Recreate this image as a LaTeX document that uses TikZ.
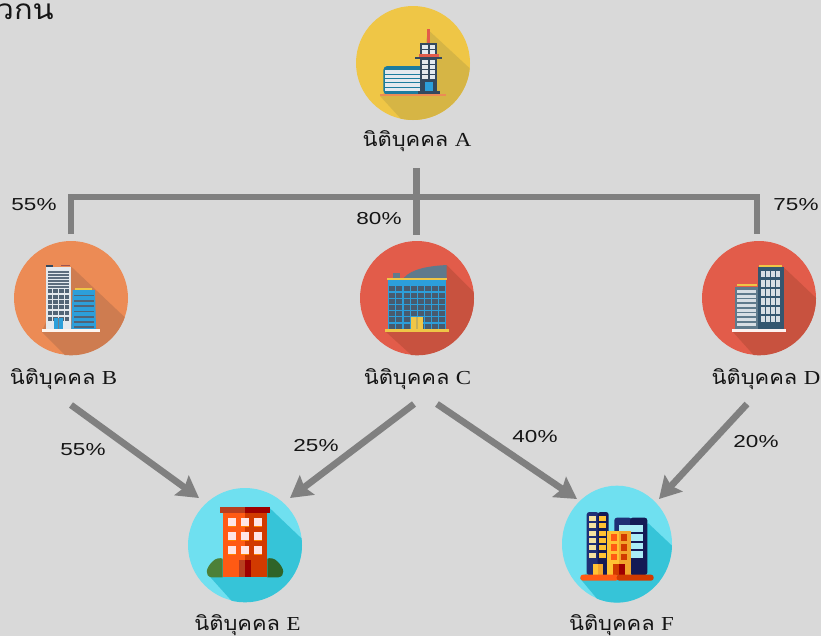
\documentclass[tikz,border=0pt]{standalone}
\usepackage{fontspec}
\usetikzlibrary{arrows.meta,shapes.geometric}
\newfontfamily\thaifont[Script=Thai,FakeStretch=1.1]{Loma}
\newfontfamily\latf[FakeStretch=1.15]{Liberation Serif}
\newfontfamily\pctf[FakeStretch=1.3]{Liberation Sans}
\definecolor{bgc}{HTML}{D9D9D9}
\definecolor{barc}{HTML}{808080}
\definecolor{inkc}{HTML}{151515}
\definecolor{yelc}{HTML}{EFC646}
\definecolor{yels}{HTML}{D6B545}
\definecolor{orac}{HTML}{EC8B55}
\definecolor{oras}{HTML}{CE7C50}
\definecolor{redc}{HTML}{E25C4A}
\definecolor{reds}{HTML}{C8523F}
\definecolor{cyac}{HTML}{6FE0F0}
\definecolor{cyas}{HTML}{36C4D8}
\definecolor{navy}{HTML}{34495E}
\definecolor{skyb}{HTML}{2C9FDA}
\definecolor{slat}{HTML}{5F7A8C}
\definecolor{teal}{HTML}{1C7C9E}
\definecolor{dnav}{HTML}{34566F}
\definecolor{fnavl}{HTML}{1F2F75}
\definecolor{fnavd}{HTML}{141A55}
\definecolor{hotl}{HTML}{FF5A14}
\definecolor{hotd}{HTML}{D13A00}
\definecolor{roofl}{HTML}{B83F1F}
\definecolor{roofd}{HTML}{9E0000}
\definecolor{bushl}{HTML}{4C8038}
\definecolor{bushd}{HTML}{2F6428}
\definecolor{ambl}{HTML}{FFC233}
\definecolor{ambd}{HTML}{F2A52C}
\definecolor{cream}{HTML}{F5E2A0}
\definecolor{palew}{HTML}{E4E9EE}
\newcommand{\bx}[5]{\fill[#1] (#2,#3) rectangle (#4,#5);}
\tikzset{
  disc/.style={circle,minimum size=85.5pt,inner sep=0pt},
  namelabel/.style={text=inkc,inner sep=0pt,font=\fontsize{14.9pt}{18pt}\selectfont},
  pct/.style={text=inkc,inner sep=0pt,font=\pctf\fontsize{13pt}{15pt}\selectfont},
  barline/.style={draw=barc,line width=5.2pt},
  arrowline/.style={draw=barc,line width=5pt,-{Stealth[length=16pt,width=18pt,inset=2.5pt]}},
  zoomed/.style={x=.25pt,y=-.25pt}
}
\newcommand{\ent}[1]{{\thaifont นิติบุคคล} {\latf #1}}
\begin{document}
\begin{tikzpicture}[x=.75pt,y=-.75pt]
\useasboundingbox (0,0) rectangle (821,636);
\fill[bgc] (0,0) rectangle (821,636);
\clip (0,0) rectangle (821,636);
% discs
\node[disc,fill=yelc] (a) at (413,63) {};
\node[disc,fill=orac] (b) at (71,298) {};
\node[disc,fill=redc] (c) at (417,298) {};
\node[disc,fill=redc] (d) at (759,298) {};
\node[disc,fill=cyac] (e) at (245,545) {};
\node[ellipse,minimum width=82.5pt,minimum height=87.5pt,inner sep=0pt,fill=cyac] (f) at (617,544) {};
% building A
\begin{scope}[shift={(340,0)},zoomed]
\begin{scope}\clip (219,189) circle[radius=42.75pt];
\fill[yels] (265,90) -- (400,215) -- (400,370) -- (195,370) -- (120,288) -- (241,200) -- cycle;
\end{scope}
\fill[rounded corners=3pt,fill=teal] (130,198) rectangle (250,284);
\foreach \y in {211,224,237,250,263}{\bx{palew}{136}{\y}{242}{\y+10}}
\bx{redc}{262}{88}{270}{135}
\bx{navy}{241}{130}{291}{165}
\foreach \x in {247,269}{\foreach \y in {135,150}{\bx{palew}{\x}{\y}{\x+16}{\y+12}}}
\bx{redc}{237}{162}{297}{170}
\bx{navy}{225}{170}{305}{178}
\bx{navy}{241}{178}{291}{274}
\foreach \x in {247,269}{\foreach \y in {181,196,211,226}{\bx{palew}{\x}{\y}{\x+16}{\y+12}}}
\bx{skyb}{255}{246}{279}{272}
\bx{navy}{233}{272}{301}{282}
\bx{orac}{120}{282}{318}{289}
\end{scope}
% building B
\begin{scope}[shift={(0,230)},zoomed]
\begin{scope}\clip (213,205) circle[radius=42.75pt];
\fill[oras] (214,110) -- (385,272) -- (385,385) -- (205,385) -- (125,305) -- cycle;
\end{scope}
\bx{navy}{138}{104}{158}{110}
\bx{redc!60!navy}{182}{104}{210}{108}
\bx{palew}{138}{112}{214}{298}
\foreach \y in {122,131,140,149,158,167}{\bx{navy!80}{144}{\y}{208}{\y+6}}
\foreach \x in {144,160,178,194}{\foreach \y in {178,194,210,226,242,262}{\bx{navy!85}{\x}{\y}{\x+13}{\y+12}}}
\bx{skyb}{162}{265}{190}{298}
\bx{navy!70}{175}{265}{177}{298}
\fill[skyb] (218,180) -- (285,180) -- (288,298) -- (214,298) -- cycle;
\foreach \y in {194,210,226,242,258,274,288}{\bx{navy!85}{222}{\y}{281}{\y+5}}
\bx{yelc}{226}{174}{275}{180}
\bx{white!90!orac}{125}{298}{300}{306}
\end{scope}
% building C
\begin{scope}[shift={(350,230)},zoomed]
\begin{scope}\clip (201,205) circle[radius=42.75pt];
\fill[reds] (290,105) -- (385,200) -- (385,385) -- (195,385) -- (107,305) -- cycle;
\end{scope}
\fill[slat] (160,145) .. controls (185,115) and (240,108) .. (290,105) -- (290,145) -- cycle;
\bx{slat}{130}{128}{150}{145}
\bx{skyb}{114}{150}{288}{298}
\bx{yelc}{112}{144}{290}{150}
\foreach \x in {118,139,163,183,204,225,247,267}{\foreach \y in {168,188,207,225,243,262,281}{\bx{navy!90}{\x}{\y}{\x+17}{\y+15}}}
\bx{yelc}{182}{260}{220}{298}
\bx{yelc!70!slat}{198}{262}{203}{298}
\bx{yelc}{106}{297}{297}{306}
\end{scope}
% building D
\begin{scope}[shift={(690,230)},zoomed]
\begin{scope}\clip (207,205) circle[radius=42.75pt];
\fill[reds] (281,112) -- (390,215) -- (390,385) -- (200,385) -- (128,305) -- cycle;
\end{scope}
\bx{slat}{135}{170}{203}{298}
\bx{yelc}{141}{161}{201}{169}
\foreach \y in {180,194,208,222,236,250,264,278}{\bx{palew!90!slat}{140}{\y}{198}{\y+9}}
\bx{dnav}{203}{112}{281}{298}
\bx{yelc}{207}{104}{276}{111}
\foreach \x in {213,228,243,258}{\foreach \y in {122,150,178,205,232,257}{\bx{palew!90!slat}{\x}{\y}{\x+11}{\y+20}}}
\bx{white!92!redc}{127}{298}{287}{306}
\end{scope}
% building E
\begin{scope}[shift={(175,480)},zoomed]
\begin{scope}\clip (210,196) circle[radius=42.75pt];
\fill[cyas] (285,85) -- (395,190) -- (395,385) -- (190,385) -- (100,285) -- cycle;
\end{scope}
\fill[bushl] (143,292) -- (110,292) .. controls (88,288) and (92,265) .. (112,245) .. controls (122,234) and (135,233) .. (143,236) -- cycle;
\fill[bushd] (277,292) -- (310,292) .. controls (332,288) and (328,265) .. (308,245) .. controls (298,234) and (285,233) .. (277,236) -- cycle;
\bx{hotl}{143}{100}{210}{292}
\bx{hotd}{210}{100}{277}{292}
\bx{roofl}{134}{82}{210}{100}
\bx{roofd}{210}{82}{286}{100}
\foreach \x in {158,198,238}{\foreach \y in {115,157,199}{\bx{white!90!red}{\x}{\y}{\x+24}{\y+22}\bx{orange}{\x}{\y+22}{\x+24}{\y+25}}}
\bx{roofl}{193}{241}{210}{292}
\bx{roofd}{210}{241}{227}{292}
\end{scope}
% building F
\begin{scope}[shift={(550,480)},zoomed]
\begin{scope}\clip (201,193) ellipse[x radius=41.25pt,y radius=43.75pt];
\fill[cyas] (295,130) -- (385,215) -- (385,385) -- (165,385) -- (90,295) -- cycle;
\end{scope}
\fill[rounded corners=2pt,fnavl] (110,96) rectangle (146,285);
\fill[rounded corners=2pt,fnavd] (143,96) rectangle (176,285);
\foreach \y in {108,130,152,174,196,218}{\bx{cream}{117}{\y}{137}{\y+15}\bx{ambl}{148}{\y}{169}{\y+15}}
\bx{ambl}{128}{252}{143}{285}
\bx{ambd}{143}{252}{158}{285}
\fill[rounded corners=2pt,fnavl] (193,113) rectangle (245,285);
\fill[rounded corners=2pt,fnavd] (240,113) rectangle (292,285);
\foreach \y in {135,162,188,214}{\bx{cyac!60!white}{207}{\y}{280}{\y+20}}
\bx{ambl}{172}{152}{208}{285}
\bx{ambd}{208}{152}{244}{285}
\foreach \y in {163,192,221}{\bx{hotl}{182}{\y}{200}{\y+20}\bx{hotd}{214}{\y}{232}{\y+20}}
\bx{hotd}{190}{252}{208}{285}
\bx{roofd}{208}{252}{226}{285}
\fill[rounded corners=2pt,hotl] (91,284) rectangle (205,302);
\fill[rounded corners=2pt,hotd] (200,284) rectangle (311,302);
\end{scope}
% name labels
\node[namelabel] (la) at (417,141) {\ent{A}};
\node[namelabel] (lb) at (63.5,379.5) {\ent{B}};
\node[namelabel] (lc) at (417.5,379.5) {\ent{C}};
\node[namelabel] (ld) at (766,379.5) {\ent{D}};
\node[namelabel] (le) at (247.5,625) {\ent{E}};
\node[namelabel] (lf) at (621.5,625) {\ent{F}};
\node[text=inkc,inner sep=0pt,anchor=east,font=\thaifont\fontsize{21pt}{24pt}\selectfont] (top) at (54,12) {วกน};
% ownership bracket
\coordinate (hubtop) at (416.5,168);
\coordinate (hubc) at (416.5,235);
\coordinate (drb) at (71,234);
\coordinate (drd) at (757,234);
\coordinate (cnb) at (71,197);
\coordinate (cnd) at (757,197);
\draw[barline,line cap=butt,line join=miter] (drb) -- (cnb) -- (cnd) -- (drd);
\draw[barline] (hubtop) -- (hubc);
% arrows
\coordinate (sb) at (71,405);
\coordinate (sc1) at (414,404);
\coordinate (sc2) at (437,404);
\coordinate (sd) at (747,404);
\coordinate (te1) at (199,498);
\coordinate (te2) at (290,498);
\coordinate (tf1) at (577,499);
\coordinate (tf2) at (659,499);
\draw[arrowline] (sb) -- (te1);
\draw[arrowline] (sc1) -- (te2);
\draw[arrowline] (sc2) -- (tf1);
\draw[arrowline] (sd) -- (tf2);
% percentages
\node[pct] (p1) at (34,205) {55\%};
\node[pct] (p2) at (379,219) {80\%};
\node[pct] (p3) at (796,205) {75\%};
\node[pct] (p4) at (83,450) {55\%};
\node[pct] (p5) at (316,446) {25\%};
\node[pct] (p6) at (535,437) {40\%};
\node[pct] (p7) at (756,442) {20\%};
\end{tikzpicture}
\end{document}
